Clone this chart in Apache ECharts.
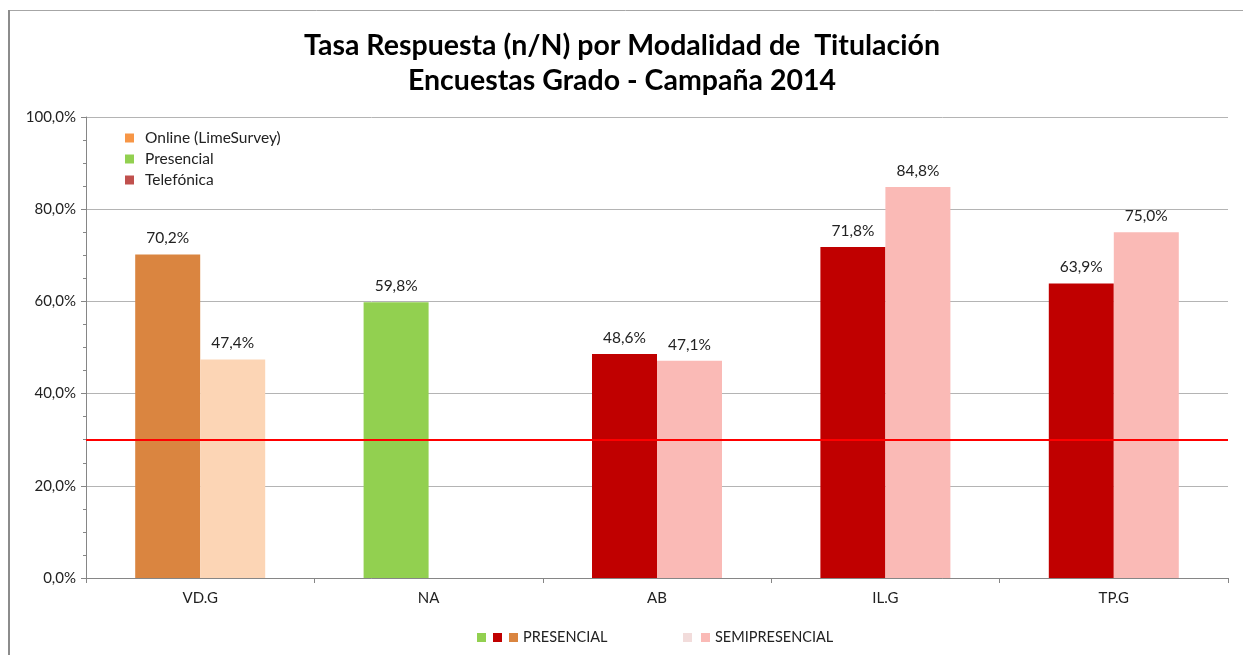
<!DOCTYPE html>
<html>
<head>
<meta charset="utf-8">
<script src="https://cdn.jsdelivr.net/npm/echarts@6/dist/echarts.min.js"></script>
<style>
  html, body { margin: 0; padding: 0; background: #fff; }
  #chart { width: 1244px; height: 655px; }
</style>
</head>
<body>
<div id="chart"></div>
<script>
// data
const categories = ['VD.G', 'NA', 'AB', 'IL.G', 'TP.G']
const presencial = [70.2, 59.8, 48.6, 71.8, 63.9]
const semipresencial = [47.4, null, 47.1, 84.8, 75.0]
const presColors = ['#DA8540', '#92D050', '#C00000', '#C00000', '#C00000']
const semiColors = ['#FCD5B5', '#FCD5B5', '#FABAB6', '#FABAB6', '#FABAB6']
const targetRate = 30

const fmt = v => v.toFixed(1).replace('.', ',') + '%'
const font = 'Lato'

const myChart = echarts.init(document.getElementById('chart'))

const labelOpt = {
  show: true,
  position: 'top',
  distance: 8,
  fontFamily: font,
  fontSize: 15.5,
  color: '#222',
  formatter: p => (p.value == null ? '' : fmt(p.value))
}

// dummy series only used for the legend squares
const dummy = (name, color) => ({ name, type: 'line', data: [], itemStyle: { color }, lineStyle: { color } })

const option = {
  backgroundColor: '#fff',
  animation: false,
  title: {
    text: 'Tasa Respuesta (n/N) por Modalidad de  Titulación\nEncuestas Grado - Campaña 2014',
    left: 'center',
    top: 23,
    textStyle: { fontFamily: font, fontWeight: 'bold', fontSize: 28.5, lineHeight: 35, color: '#000' }
  },
  legend: [
    {
      orient: 'vertical',
      left: 120,
      top: 125,
      icon: 'rect',
      itemWidth: 9,
      itemHeight: 9,
      itemGap: 5,
      data: ['Online (LimeSurvey)', 'Presencial', 'Telefónica'],
      textStyle: { fontFamily: font, fontSize: 15.5, color: '#222', padding: [0, 0, 0, 6] }
    },
    {
      left: 472,
      top: 625,
      icon: 'rect',
      itemWidth: 9,
      itemHeight: 9,
      itemGap: 7,
      data: ['pv', 'pr', 'PRESENCIAL'],
      formatter: n => (n === 'PRESENCIAL' ? n : ''),
      textStyle: { fontFamily: font, fontSize: 14.5, color: '#222' }
    },
    {
      left: 678,
      top: 625,
      icon: 'rect',
      itemWidth: 9,
      itemHeight: 9,
      itemGap: 9,
      data: ['sl', 'SEMIPRESENCIAL'],
      formatter: n => (n === 'SEMIPRESENCIAL' ? n : ''),
      textStyle: { fontFamily: font, fontSize: 14.5, color: '#222' }
    }
  ],
  grid: { left: 86, right: 16, top: 117, bottom: 77 },
  xAxis: {
    type: 'category',
    data: categories,
    axisLine: { lineStyle: { color: '#868686' } },
    axisTick: { show: true, length: 5, lineStyle: { color: '#868686' } },
    axisLabel: { fontFamily: font, fontSize: 15, color: '#222', margin: 13 }
  },
  yAxis: {
    type: 'value',
    min: 0,
    max: 100,
    interval: 20,
    axisLine: { show: true, lineStyle: { color: '#868686' } },
    axisTick: { show: true, length: 5, lineStyle: { color: '#868686' } },
    minorTick: { show: true, splitNumber: 4, length: 3, lineStyle: { color: '#868686' } },
    splitLine: { lineStyle: { color: '#b4b4b4' } },
    axisLabel: { fontFamily: font, fontSize: 15, color: '#222', margin: 10, formatter: v => fmt(v) }
  },
  series: [
    {
      name: 'PRESENCIAL',
      type: 'bar',
      barWidth: 65,
      barGap: 0,
      itemStyle: { color: '#DA8540' },
      data: presencial.map((v, i) => ({ value: v, itemStyle: { color: presColors[i] } })),
      label: labelOpt,
      markLine: {
        silent: true,
        symbol: 'none',
        label: { show: false },
        lineStyle: { color: '#FF0000', width: 2, type: 'solid' },
        data: [{ yAxis: targetRate }]
      }
    },
    {
      name: 'SEMIPRESENCIAL',
      type: 'bar',
      barWidth: 65,
      itemStyle: { color: '#FABAB6' },
      data: semipresencial.map((v, i) => ({ value: v, itemStyle: { color: semiColors[i] } })),
      label: labelOpt
    },
    dummy('Online (LimeSurvey)', '#F79646'),
    dummy('Presencial', '#92D050'),
    dummy('Telefónica', '#C0504D'),
    dummy('pv', '#92D050'),
    dummy('pr', '#C00000'),
    dummy('sl', '#F2DCDB')
  ],
  graphic: [
    { type: 'line', shape: { x1: 8, y1: 10.5, x2: 1243, y2: 10.5 }, style: { stroke: '#a6a6a6', lineWidth: 1 } },
    { type: 'line', shape: { x1: 9, y1: 10, x2: 9, y2: 655 }, style: { stroke: '#8c8c8c', lineWidth: 2 } }
  ]
}

myChart.setOption(option)
</script>
</body>
</html>
